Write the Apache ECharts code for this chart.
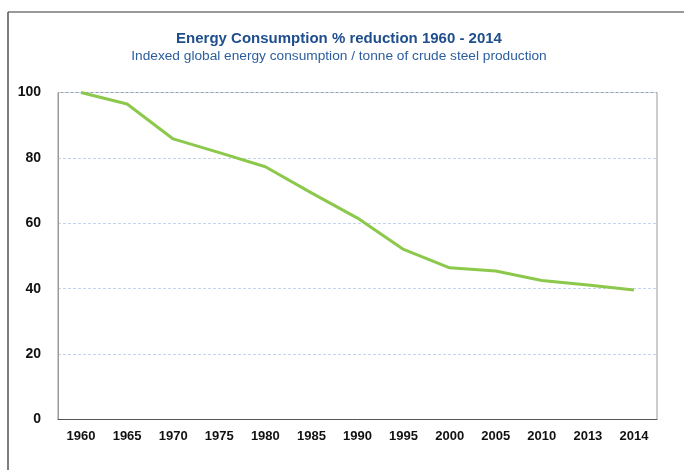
<!DOCTYPE html>
<html>
<head>
<meta charset="utf-8">
<script src="https://cdn.jsdelivr.net/npm/echarts@6/dist/echarts.min.js"></script>
<style>
  html, body { margin: 0; padding: 0; background: #fff; }
  #chart { width: 684px; height: 470px; }
</style>
</head>
<body>
<div id="chart"></div>
<script>
// data
var years = ['1960', '1965', '1970', '1975', '1980', '1985', '1990', '1995', '2000', '2005', '2010', '2013', '2014'];
var energyIndex = [100, 96.5, 85.8, 81.6, 77.3, 69.3, 61.6, 52.0, 46.4, 45.4, 42.5, 41.1, 39.6];
var yTicks = [0, 20, 40, 60, 80, 100];

var myChart = echarts.init(document.getElementById('chart'));
var option = {
    backgroundColor: '#fff',
    animation: false,
    title: {
        text: 'Energy Consumption % reduction 1960 - 2014',
        subtext: 'Indexed global energy consumption / tonne of crude steel production',
        left: 334,
        textAlign: 'center',
        top: 26,
        itemGap: 3,
        textStyle: {
            fontFamily: 'Liberation Sans, Arial',
            fontSize: 15,
            fontWeight: 'bold',
            color: '#1f4e8c'
        },
        subtextStyle: {
            fontFamily: 'Liberation Sans, Arial',
            fontSize: 13.7,
            color: '#2c5e9e'
        }
    },
    graphic: [
        // outer frame (top and left only, as in the picture)
        { type: 'line', shape: { x1: 8, y1: 12, x2: 684, y2: 12 }, style: { stroke: '#777', lineWidth: 1.5 } },
        { type: 'line', shape: { x1: 8, y1: 12, x2: 8, y2: 470 }, style: { stroke: '#555', lineWidth: 1.5 } }
    ],
    grid: {
        left: 58,
        right: 27,
        top: 92.5,
        bottom: 50.5,
        show: true,
        borderColor: '#999',
        borderWidth: 1,
        containLabel: false
    },
    xAxis: {
        type: 'category',
        data: years,
        boundaryGap: true,
        axisTick: { show: false },
        axisLine: { lineStyle: { color: '#555', width: 1 } },
        axisLabel: {
            interval: 0,
            margin: 10,
            fontFamily: 'Liberation Sans, Arial',
            fontSize: 13,
            fontWeight: 'bold',
            color: '#111'
        }
    },
    yAxis: {
        type: 'value',
        min: yTicks[0],
        max: yTicks[yTicks.length - 1],
        interval: 20,
        axisLine: { show: true, lineStyle: { color: '#999' } },
        axisTick: { show: false },
        axisLabel: {
            margin: 17,
            fontFamily: 'Liberation Sans, Arial',
            fontSize: 14,
            fontWeight: 'bold',
            color: '#111'
        },
        splitLine: {
            lineStyle: { color: '#c3d4f0', type: [3, 2], width: 1 }
        }
    },
    series: [
        {
            name: 'Energy index',
            type: 'line',
            data: energyIndex,
            symbol: 'none',
            lineStyle: { color: '#8cc84b', width: 3 },
            itemStyle: { color: '#8cc84b' }
        }
    ]
};
myChart.setOption(option);
</script>
</body>
</html>
